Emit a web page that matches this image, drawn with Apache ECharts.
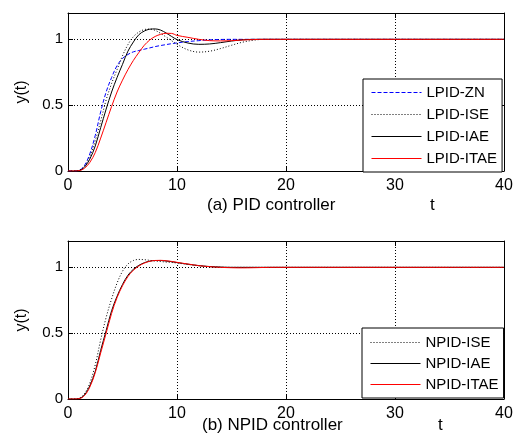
<!DOCTYPE html>
<html>
<head>
<meta charset="utf-8">
<script src="https://cdn.jsdelivr.net/npm/echarts@6/dist/echarts.min.js"></script>
<style>
  html, body { margin: 0; padding: 0; background: #fff; }
  #chart { width: 519px; height: 445px; }
</style>
</head>
<body>
<div id="chart"></div>
<script>
// time samples shared by every curve
const t = [0, 0.5, 1, 1.5, 2, 2.5, 3, 3.5, 4, 4.5,
           5, 5.5, 6, 6.5, 7, 7.5, 8, 8.5, 9, 9.5,
           10, 11, 12, 13, 14, 15, 16, 17, 18, 19,
           20, 25, 30, 35, 40];

// (a) PID controller
const lpidZN = [0, 0, 0.005, 0.04, 0.13, 0.27, 0.45, 0.6, 0.71, 0.8,
                0.855, 0.885, 0.905, 0.915, 0.925, 0.935, 0.945, 0.953, 0.96, 0.967,
                0.973, 0.983, 0.99, 0.996, 0.999, 1, 1, 1, 1, 1,
                1, 1, 1, 1, 1];
const lpidISE = [0, 0, 0.004, 0.035, 0.11, 0.23, 0.38, 0.54, 0.665, 0.77,
                 0.875, 0.96, 1.02, 1.055, 1.074, 1.078, 1.068, 1.045, 1.018, 0.99,
                 0.962, 0.92, 0.903, 0.91, 0.93, 0.955, 0.978, 0.993, 1, 1,
                 1, 1, 1, 1, 1];
const lpidIAE = [0, 0, 0.003, 0.028, 0.09, 0.19, 0.33, 0.47, 0.6, 0.71,
                 0.81, 0.91, 0.98, 1.035, 1.063, 1.077, 1.079, 1.07, 1.048, 1.022,
                 0.998, 0.972, 0.962, 0.965, 0.975, 0.987, 0.996, 1, 1, 1,
                 1, 1, 1, 1, 1];
const lpidITAE = [0, 0, 0.002, 0.02, 0.065, 0.14, 0.25, 0.37, 0.49, 0.6,
                  0.69, 0.77, 0.84, 0.9, 0.955, 0.995, 1.022, 1.038, 1.046, 1.045,
                  1.03, 1.015, 1.0, 0.99, 0.988, 0.99, 0.995, 0.998, 1, 1,
                  1, 1, 1, 1, 1];

// (b) NPID controller
const npidISE = [0, 0, 0.005, 0.04, 0.12, 0.26, 0.45, 0.62, 0.76, 0.88,
                 0.97, 1.025, 1.052, 1.06, 1.058, 1.053, 1.048, 1.044, 1.04, 1.037,
                 1.033, 1.022, 1.012, 1.005, 1.001, 1, 1, 1, 1, 1,
                 1, 1, 1, 1, 1];
const npidIAE = [0, 0, 0.003, 0.03, 0.1, 0.21, 0.37, 0.52, 0.67, 0.78,
                 0.87, 0.94, 0.985, 1.015, 1.035, 1.047, 1.052, 1.052, 1.048, 1.043,
                 1.036, 1.024, 1.013, 1.006, 1.002, 1, 1, 1, 1, 1,
                 1, 1, 1, 1, 1];
const npidITAE = [0, 0, 0.002, 0.025, 0.09, 0.2, 0.35, 0.5, 0.65, 0.77,
                  0.86, 0.93, 0.978, 1.01, 1.032, 1.046, 1.052, 1.053, 1.05, 1.045,
                  1.038, 1.025, 1.013, 1.005, 1.0, 0.997, 0.996, 0.997, 0.999, 1,
                  1, 1, 1, 1, 1];

const xTicks = { min: 0, max: 40, interval: 10 };
const yTicks = { min: 0, max: 1.2, interval: 0.5 };

const FONT = '"Liberation Sans", Arial, sans-serif';
const chart = echarts.init(document.getElementById('chart'));

const pairs = (ys) => t.map((x, i) => [x, ys[i]]);

// 主坐标轴（带标签和点线网格）
function mainX(grid) {
  return {
    type: 'value', gridIndex: grid, position: 'bottom',
    min: xTicks.min, max: xTicks.max, interval: xTicks.interval,
    axisLine: { show: true, onZero: false, lineStyle: { color: '#000', width: 1 } },
    axisTick: { inside: true, length: 5, lineStyle: { color: '#000' } },
    axisLabel: { color: '#000', fontSize: 16, fontFamily: FONT, margin: 7 },
    splitLine: { show: true, lineStyle: { color: '#000', type: [1, 2], width: 1 } }
  };
}
function mainY(grid) {
  return {
    type: 'value', gridIndex: grid, position: 'left',
    min: yTicks.min, max: yTicks.max, interval: yTicks.interval,
    name: 'y(t)', nameLocation: 'middle', nameGap: 38, nameRotate: 90,
    nameTextStyle: { color: '#000', fontSize: 16, fontFamily: FONT },
    axisLine: { show: true, onZero: false, lineStyle: { color: '#000', width: 1 } },
    axisTick: { inside: true, length: 5, lineStyle: { color: '#000' } },
    axisLabel: { color: '#000', fontSize: 15, fontFamily: FONT, margin: 5, showMaxLabel: false },
    splitLine: { show: true, lineStyle: { color: '#000', type: [1, 2], width: 1 } }
  };
}
// 上/右边框
function boxX(grid) {
  return {
    type: 'value', gridIndex: grid, position: 'top',
    min: xTicks.min, max: xTicks.max, interval: xTicks.interval,
    axisLine: { show: true, onZero: false, lineStyle: { color: '#000', width: 1 } },
    axisTick: { inside: true, length: 5, lineStyle: { color: '#000' } },
    axisLabel: { show: false }, splitLine: { show: false }
  };
}
function boxY(grid) {
  return {
    type: 'value', gridIndex: grid, position: 'right',
    min: yTicks.min, max: yTicks.max, interval: yTicks.interval,
    axisLine: { show: true, onZero: false, lineStyle: { color: '#000', width: 1 } },
    axisTick: { inside: true, length: 5, lineStyle: { color: '#000' } },
    axisLabel: { show: false }, splitLine: { show: false }
  };
}

function line(name, data, axis, color, type) {
  return {
    name: name, type: 'line', xAxisIndex: axis, yAxisIndex: axis,
    data: pairs(data), symbol: 'none', smooth: 0.35,
    lineStyle: { color: color, width: 1, type: type },
    itemStyle: { color: color }
  };
}

const legendBase = {
  orient: 'vertical', itemWidth: 50, itemHeight: 13, itemGap: 7,
  backgroundColor: '#fff', borderColor: '#000', borderWidth: 1, borderRadius: 0,
  textStyle: { color: '#000', fontSize: 15, fontFamily: FONT },
  itemStyle: { opacity: 0 },
  lineStyle: { width: 1 },
  selectedMode: false
};

chart.setOption({
  animation: false,
  backgroundColor: '#fff',
  grid: [
    { left: 68, right: 15, top: 13, height: 158 },
    { left: 68, right: 15, top: 241, height: 158 }
  ],
  xAxis: [mainX(0), boxX(0), mainX(1), boxX(1)],
  yAxis: [mainY(0), boxY(0), mainY(1), boxY(1)],
  legend: [
    Object.assign({}, legendBase, {
      left: 363, top: 79, padding: [6, 5, 6, 8],
      data: ['LPID-ZN', 'LPID-ISE', 'LPID-IAE', 'LPID-ITAE']
    }),
    Object.assign({}, legendBase, {
      left: 362, top: 328, padding: [7, 5, 6, 8], itemGap: 6,
      data: ['NPID-ISE', 'NPID-IAE', 'NPID-ITAE']
    })
  ],
  series: [
    line('LPID-ZN', lpidZN, 0, '#0000ff', [4, 2]),
    line('LPID-ISE', lpidISE, 0, '#000', [1, 2]),
    line('LPID-IAE', lpidIAE, 0, '#000', 'solid'),
    line('LPID-ITAE', lpidITAE, 0, '#ff0000', 'solid'),
    line('NPID-ISE', npidISE, 2, '#000', [1, 2]),
    line('NPID-IAE', npidIAE, 2, '#000', 'solid'),
    line('NPID-ITAE', npidITAE, 2, '#ff0000', 'solid')
  ],
  graphic: [
    { type: 'text', left: 207, top: 197, style: { text: '(a) PID controller', fill: '#000', font: '17px ' + FONT } },
    { type: 'text', left: 430, top: 197, style: { text: 't', fill: '#000', font: '17px ' + FONT } },
    { type: 'text', left: 202, top: 417, style: { text: '(b) NPID controller', fill: '#000', font: '17px ' + FONT } },
    { type: 'text', left: 438, top: 417, style: { text: 't', fill: '#000', font: '17px ' + FONT } }
  ]
});
</script>
</body>
</html>
